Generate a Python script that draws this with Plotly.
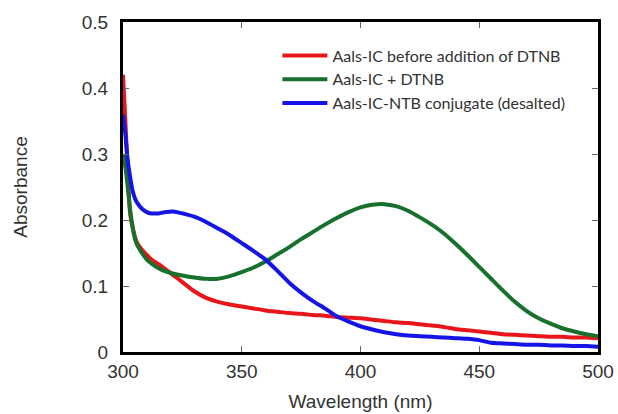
import plotly.graph_objects as go

wavelength = [300, 301, 302, 303, 304, 305, 306, 308, 310, 312, 315, 318, 321, 325,
              330, 335, 340, 345, 350, 355, 360, 365, 370, 375, 380, 385, 390, 395,
              400, 405, 410, 415, 420, 425, 430, 435, 440, 445, 450, 455, 460, 465,
              470, 475, 480, 485, 490, 495, 500]

red_before = [0.42, 0.35, 0.27, 0.21, 0.19, 0.175, 0.165, 0.155, 0.147, 0.14, 0.133, 0.125,
              0.117, 0.106, 0.092, 0.082, 0.076, 0.072, 0.069, 0.066, 0.063, 0.061, 0.059,
              0.058, 0.056, 0.055, 0.053, 0.052, 0.051, 0.049, 0.047, 0.045, 0.044, 0.042,
              0.040, 0.038, 0.035, 0.033, 0.031, 0.029, 0.027, 0.026, 0.025, 0.024, 0.023,
              0.023, 0.022, 0.022, 0.021]

green_dtnb = [0.30, 0.28, 0.25, 0.215, 0.19, 0.172, 0.162, 0.15, 0.14, 0.134, 0.127, 0.122,
              0.119, 0.116, 0.113, 0.111, 0.111, 0.115, 0.121, 0.128, 0.137, 0.148, 0.159,
              0.171, 0.182, 0.193, 0.203, 0.212, 0.219, 0.223, 0.224, 0.221, 0.214, 0.204,
              0.193, 0.18, 0.164, 0.147, 0.129, 0.111, 0.093, 0.076, 0.062, 0.051, 0.043,
              0.036, 0.031, 0.027, 0.024]

blue_conjugate = [0.36, 0.33, 0.29, 0.265, 0.245, 0.233, 0.226, 0.217, 0.212, 0.21, 0.21,
                  0.212, 0.213, 0.21, 0.205, 0.197, 0.187, 0.177, 0.165, 0.153, 0.14, 0.123,
                  0.105, 0.09, 0.077, 0.066, 0.054, 0.046, 0.039, 0.034, 0.03, 0.027, 0.025,
                  0.024, 0.023, 0.022, 0.021, 0.02, 0.018, 0.014, 0.013, 0.012, 0.011, 0.011,
                  0.01, 0.01, 0.009, 0.009, 0.008]

series_names = ["Aals-IC before addition of DTNB", "Aals-IC + DTNB",
                "Aals-IC-NTB conjugate (desalted)"]
series_colors = ["#e8161b", "#17702c", "#1414e6"]

x_ticks = [300, 350, 400, 450, 500]
y_ticks = [0, 0.1, 0.2, 0.3, 0.4, 0.5]
y_tick_labels = ["0", "0.1", "0.2", "0.3", "0.4", "0.5"]

fig = go.Figure()
for name, ys, col in zip(series_names, [red_before, green_dtnb, blue_conjugate], series_colors):
    fig.add_trace(go.Scatter(x=wavelength, y=ys, mode="lines", name=name,
                             line=dict(color=col, width=4, shape="spline", smoothing=0.6)))

axis_font = dict(family="Liberation Sans, Arial, sans-serif", size=19, color="#333333")
fig.update_layout(
    width=618, height=414,
    margin=dict(l=123, r=20, t=22, b=62),
    paper_bgcolor="white", plot_bgcolor="white",
    font=axis_font,
    showlegend=True,
    legend=dict(x=0.325, y=0.95, xanchor="left", yanchor="top",
                bgcolor="rgba(0,0,0,0)", tracegroupgap=0, itemwidth=45,
                font=dict(family="Lato, Open Sans, sans-serif", size=16, color="#333333")),
    xaxis=dict(range=[300, 500], tickvals=x_ticks, ticks="inside", ticklen=6,
               tickcolor="#666666", showline=True, linecolor="black", linewidth=3,
               mirror="ticks", showgrid=False, zeroline=False, automargin=False,
               title=dict(text="Wavelength (nm)", font=dict(size=19), standoff=14)),
    yaxis=dict(range=[0, 0.5], tickvals=y_ticks, ticktext=y_tick_labels, ticks="inside",
               ticklen=6, tickcolor="#666666", showline=True, linecolor="black",
               linewidth=3, mirror="ticks", showgrid=False, zeroline=False, automargin=False,
               ticklabelstandoff=8,
               title=dict(text="Absorbance", font=dict(size=19), standoff=50)),
)

fig.write_html("out.html")
